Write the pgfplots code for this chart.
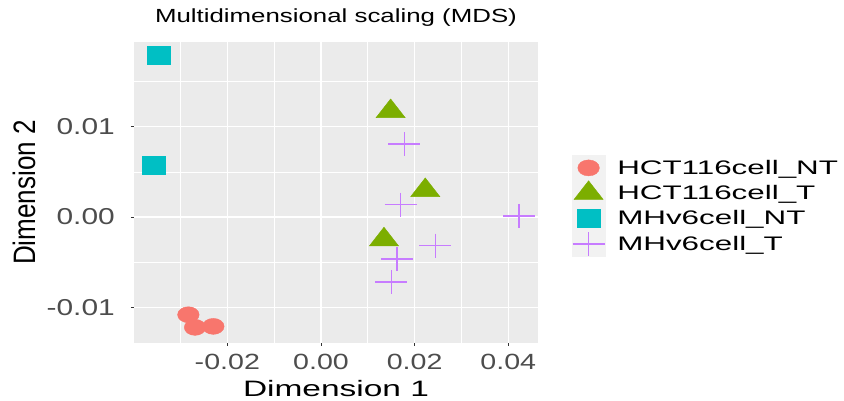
\documentclass[border=0pt]{standalone}
\usepackage{fontspec}
\setmainfont{Liberation Sans}
\newfontfamily\tickfont{Liberation Sans}[FakeStretch=1.3]
\newfontfamily\labfont{Liberation Sans}[FakeStretch=1.5]
\newfontfamily\ylabfont{Liberation Sans}[FakeStretch=0.84]
\newfontfamily\titfont{Liberation Sans}[FakeStretch=1.36]
\newfontfamily\legfont{Liberation Sans}[FakeStretch=1.6]
\newfontfamily\legtitfont{Liberation Sans}[FakeStretch=1.44]
\usepackage{pgfplots}
\pgfplotsset{compat=1.18}

\definecolor{panel}{HTML}{EBEBEB}
\definecolor{legkey}{HTML}{F2F2F2}
\definecolor{cNT}{HTML}{F8766D}
\definecolor{cT}{HTML}{7CAE00}
\definecolor{mNT}{HTML}{00BFC4}
\definecolor{mT}{HTML}{C77CFF}
\definecolor{tickgray}{HTML}{4D4D4D}

\begin{document}
\begin{tikzpicture}
\path[use as bounding box] (-134pt,-58pt) rectangle (710pt,343pt);
\begin{axis}[
  at={(0,0)}, anchor=south west,
  scale only axis,
  width=404pt, height=301pt,
  xmin=-0.03993, xmax=0.04634,
  ymin=-0.01395, ymax=0.01938,
  scaled ticks=false,
  axis background/.style={fill=panel},
  axis line style={draw=none},
  xtick={-0.02,0,0.02,0.04},
  xticklabels={-0.02,0.00,0.02,0.04},
  ytick={-0.01,0,0.01},
  yticklabels={-0.01,0.00,0.01},
  minor xtick={-0.03,-0.01,0.01,0.03},
  minor ytick={-0.005,0.005,0.015},
  grid=both,
  major grid style={white, line width=1.4pt},
  minor grid style={white, line width=0.7pt},
  tick align=outside,
  major tick length=3pt,
  minor tick length=0pt,
  tick style={black!80, line width=0.8pt},
  xtick pos=bottom, ytick pos=left,
  xticklabel style={font=\tickfont\fontsize{22}{22}\selectfont, text=tickgray, anchor=base, inner sep=0pt, yshift=-24pt},
  yticklabel style={font=\tickfont\fontsize{23}{23}\selectfont, text=tickgray, anchor=east, inner sep=0pt, xshift=-16pt},
  title={Multidimensional scaling (MDS)},
  title style={font=\titfont\fontsize{19}{19}\selectfont, at={(axis description cs:0.5,1.0465)}, anchor=base, inner sep=0pt},
  xlabel={Dimension 1},
  xlabel style={font=\labfont\fontsize{22.3}{22.3}\selectfont, at={(axis description cs:0.5,-0.1794)}, anchor=base, inner sep=0pt},
  ylabel={Dimension 2},
  ylabel style={font=\ylabfont\fontsize{31}{31}\selectfont, at={(axis description cs:-0.245,0.5)}, anchor=base, inner sep=0pt},
  legend image code/.code={
    \fill[legkey] (0pt,-12.2pt) rectangle (33pt,12.2pt);
    \draw[mark repeat=1,#1] plot coordinates {(16.5pt,0pt)};
  },
  legend style={
    at={(axis description cs:1.0834,0.6246)}, anchor=north west,
    draw=none, fill=none, inner sep=0pt, row sep=0pt, column sep=12pt,
    font=\legfont\fontsize{19.6}{19.6}\selectfont,
    nodes={inner sep=0pt, text height=19pt, text depth=6.4pt, anchor=west},
  },
  legend cell align=left,
]
\addplot[only marks, mark=*, mark size=8pt, color=cNT, mark options={fill=cNT, draw=cNT, xscale=1.35}]
  coordinates {(-0.02832,-0.01082) (-0.02689,-0.01222) (-0.02299,-0.01211)};
\addlegendentry{HCT116cell\_NT}
\addplot[only marks, mark=triangle*, mark size=12.5pt, color=cT, mark options={fill=cT, draw=cT, xscale=1.35}]
  coordinates {(0.01487,0.01169) (0.02227,0.00295) (0.01345,-0.00251)};
\addlegendentry{HCT116cell\_T}
\addplot[only marks, mark=square*, mark size=9pt, color=mNT, mark options={fill=mNT, draw=mNT, xscale=1.25}]
  coordinates {(-0.03464,0.01797) (-0.03571,0.00570)};
\addlegendentry{MHv6cell\_NT}
\addplot[only marks, mark=+, mark size=12pt, color=mT, mark options={draw=mT, line width=1.5pt, xscale=1.33}]
  coordinates {(0.01779,0.00808) (0.01701,0.00136) (0.04233,0.00014) (0.02440,-0.00318) (0.01622,-0.00465) (0.01501,-0.00720)};
\addlegendentry{MHv6cell\_T}
\node[anchor=base west, inner sep=0pt, font=\legtitfont\fontsize{15}{15}\selectfont]
  at (axis description cs:1.0792,0.655) {Sample\_Name};
\end{axis}
\end{tikzpicture}
\end{document}
